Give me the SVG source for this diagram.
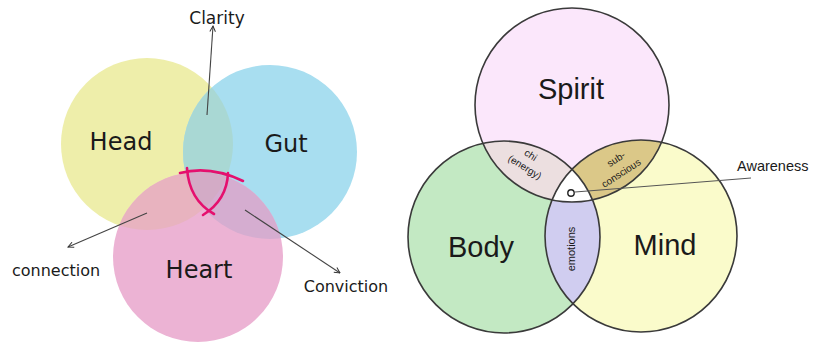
<svg xmlns="http://www.w3.org/2000/svg" width="821" height="342" viewBox="0 0 821 342">
<style>
.hand{font-family:"DejaVu Sans","Noto Sans",sans-serif;fill:#1a1a1a}
.sans{font-family:"Liberation Sans",Arial,sans-serif;fill:#1a1a1a}
.ring{fill:none;stroke:#3a3a3a;stroke-width:1.6}
.arr{fill:none;stroke:#444;stroke-width:1.1;marker-end:url(#ah)}
.mag{fill:none;stroke:#e5106e;stroke-width:2.6;stroke-linecap:round}
</style>
<defs>
<marker id="ah" viewBox="0 0 10 10" refX="9" refY="5" markerWidth="7" markerHeight="7" orient="auto" markerUnits="userSpaceOnUse">
<path d="M1,1 L9,5 L1,9" fill="none" stroke="#333" stroke-width="1.4"/>
</marker>
<clipPath id="cH"><circle cx="147" cy="144" r="86"/></clipPath>
<clipPath id="cG"><circle cx="270" cy="152" r="87"/></clipPath>
<clipPath id="cR"><circle cx="198" cy="257" r="85"/></clipPath>
<clipPath id="cS"><circle cx="572" cy="105" r="97"/></clipPath>
<clipPath id="cB"><circle cx="504" cy="237" r="96"/></clipPath>
<clipPath id="cM"><circle cx="641" cy="236" r="96"/></clipPath>
</defs>
<rect width="821" height="342" fill="#ffffff"/>

<!-- Left diagram -->
<g id="head"><circle cx="147" cy="144" r="86" fill="#eeeeaa"/></g>
<g id="gut"><circle cx="270" cy="152" r="87" fill="#a8def0"/></g>
<g id="heart"><circle cx="198" cy="257" r="85" fill="#ecb3d4"/></g>
<g id="overlaps-left">
<g clip-path="url(#cH)"><circle cx="270" cy="152" r="87" fill="#a9d8d4"/></g>
<g clip-path="url(#cH)"><circle cx="198" cy="257" r="85" fill="#e8b3bf"/></g>
<g clip-path="url(#cG)"><circle cx="198" cy="257" r="85" fill="#d5add0"/></g>
<g clip-path="url(#cH)"><g clip-path="url(#cG)"><circle cx="198" cy="257" r="85" fill="#d3abc6"/></g></g>
</g>
<g id="marks">
<path class="mag" d="M180,173 Q210,165 243,181"/>
<path class="mag" d="M187,168 Q189,200 214,214"/>
<path class="mag" d="M228,173 Q227,200 203,215"/>
</g>
<g id="labels-left">
<text class="hand" x="121" y="150" font-size="24" text-anchor="middle">Head</text>
<text class="hand" x="286" y="152" font-size="24" text-anchor="middle">Gut</text>
<text class="hand" x="199" y="278" font-size="24" text-anchor="middle">Heart</text>
<text class="hand" x="217" y="24" font-size="17" text-anchor="middle">Clarity</text>
<text class="hand" x="56" y="276" font-size="16" text-anchor="middle">connection</text>
<text class="hand" x="346" y="292" font-size="16" text-anchor="middle">Conviction</text>
</g>

<!-- Right diagram -->
<g id="spirit"><circle cx="572" cy="105" r="97" fill="#fbe7fb"/></g>
<g id="body"><circle cx="504" cy="237" r="96" fill="#c3e9c3"/></g>
<g id="mind"><circle cx="641" cy="236" r="96" fill="#fafbcb"/></g>
<g id="chi"><g clip-path="url(#cB)"><circle cx="572" cy="105" r="97" fill="#ecdfe0"/></g></g>
<g id="subconscious"><g clip-path="url(#cM)"><circle cx="572" cy="105" r="97" fill="#dbc888"/></g></g>
<g id="emotions"><g clip-path="url(#cM)"><circle cx="504" cy="237" r="96" fill="#d0cdf0"/></g></g>
<g id="awareness-core"><g clip-path="url(#cB)"><g clip-path="url(#cM)"><circle cx="572" cy="105" r="97" fill="#ffffff"/></g></g></g>
<g id="rings">
<circle class="ring" cx="572" cy="105" r="97"/>
<circle class="ring" cx="504" cy="237" r="96"/>
<circle class="ring" cx="641" cy="236" r="96"/>
</g>
<g id="connectors">
<line class="arr" x1="207" y1="115" x2="213" y2="26"/>
<line class="arr" x1="147" y1="213" x2="68" y2="247"/>
<line class="arr" x1="245" y1="210" x2="340" y2="273"/>
<line x1="575" y1="192" x2="751" y2="178" stroke="#555" stroke-width="1"/>
</g>
<g id="awareness-dot"><circle cx="571" cy="193" r="3.2" fill="#fff" stroke="#222" stroke-width="1.4"/></g>
<g id="labels-right">
<text class="sans" x="571" y="99" font-size="29" text-anchor="middle">Spirit</text>
<text class="sans" x="481" y="257" font-size="29" text-anchor="middle">Body</text>
<text class="sans" x="665" y="255" font-size="29" text-anchor="middle">Mind</text>
<text class="sans" font-size="10" text-anchor="middle" fill="#333" transform="translate(529,158) rotate(32)">chi</text>
<text class="sans" font-size="10" text-anchor="middle" fill="#333" transform="translate(523,170) rotate(32)">(energy)</text>
<text class="sans" font-size="10" text-anchor="middle" fill="#333" transform="translate(618,162) rotate(-33)">sub-</text>
<text class="sans" font-size="10" text-anchor="middle" fill="#333" transform="translate(623,176) rotate(-33)">conscious</text>
<text class="sans" font-size="11" text-anchor="middle" fill="#333" transform="translate(575,249) rotate(-90)">emotions</text>
<text class="sans" x="737" y="171" font-size="14.5" fill="#333">Awareness</text>
</g>
</svg>
